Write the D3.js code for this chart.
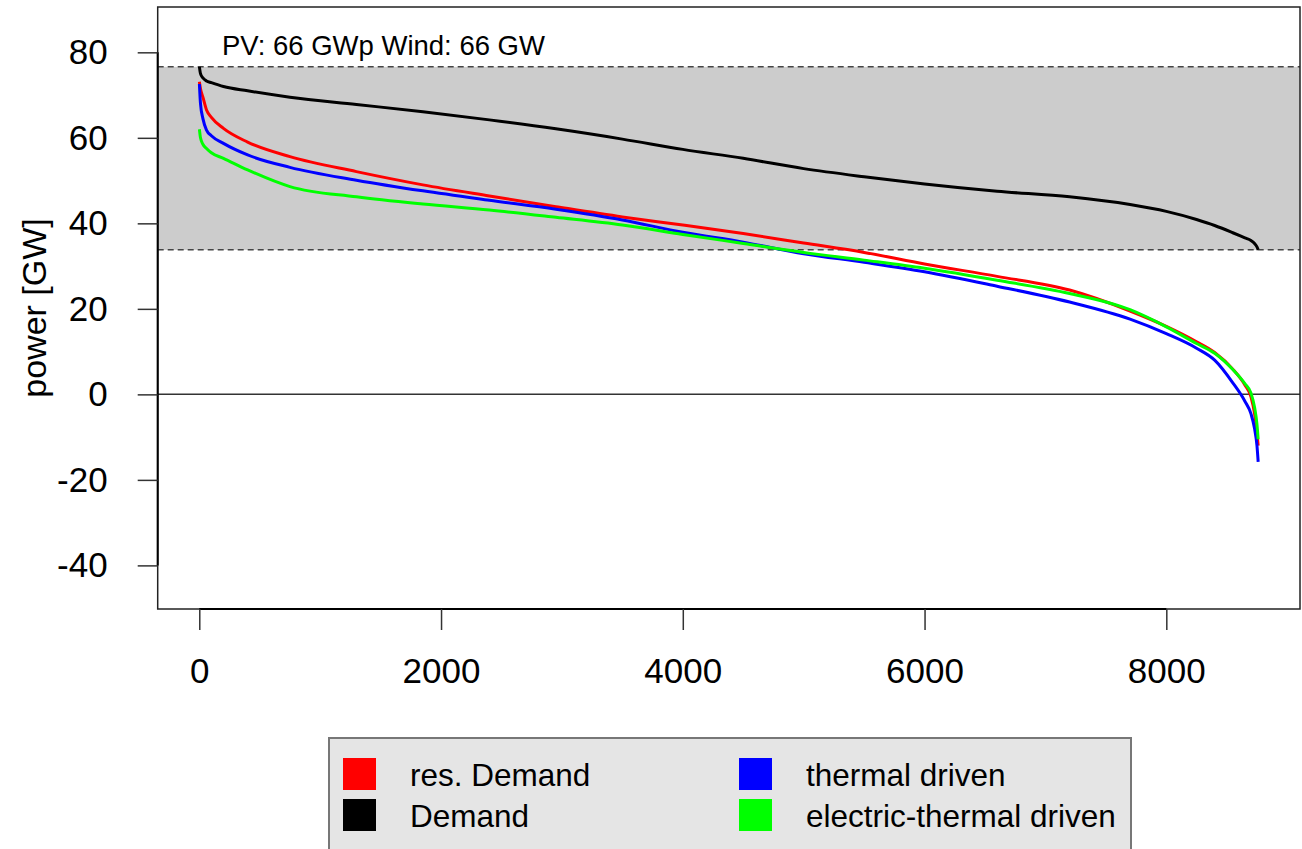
<!DOCTYPE html>
<meta charset="utf-8">
<script src="https://cdn.jsdelivr.net/npm/d3@7"></script>
<style>
body { margin: 0; background: #fff; }
text { font-family: "Liberation Sans", Arial, sans-serif; fill: #000; }
path.curve { fill: none; stroke-width: 3px; stroke-linejoin: round; }
</style>
<body>
<script>

// hours of the year (sorted duration curve sample points)
var hours = [1, 10, 30, 60, 100, 200, 400, 750, 1300, 1850, 2400, 2950, 3500, 4000,
             4500, 5000, 5500, 6000, 6600, 7200, 7700, 8000, 8250, 8400, 8550, 8650,
             8700, 8730, 8750, 8760];

var demand = [76.6, 75.0, 74.0, 73.3, 72.9, 72.0, 71.0, 69.5, 67.8, 66.1, 64.2, 62.1, 59.7, 57.3,
              55.2, 52.8, 50.9, 49.2, 47.5, 46.2, 44.4, 42.8, 40.9, 39.5, 37.8, 36.6,
              36.0, 35.3, 34.5, 33.8];

var resDemand = [73.1, 71.5, 69.5, 66.5, 64.8, 62.2, 59.0, 55.6, 52.1, 49.0, 46.4, 43.9, 41.5, 39.6,
                 37.6, 35.4, 33.2, 30.5, 27.6, 24.4, 19.5, 15.9, 12.3, 9.8, 5.9, 2.2,
                 -0.5, -4.5, -9.0, -12.0];

var thermal = [72.6, 68.0, 64.5, 61.8, 60.5, 58.7, 56.0, 53.1, 50.1, 47.6, 45.4, 43.3, 40.8, 37.9,
               35.6, 32.9, 30.9, 28.7, 25.3, 21.6, 17.6, 14.2, 10.8, 8.0, 2.7, -1.6,
               -4.5, -8.0, -12.0, -15.8];

var elecThermal = [62.0, 60.0, 58.5, 57.5, 56.5, 55.2, 52.5, 48.6, 46.2, 44.5, 43.1, 41.4, 39.6, 37.4,
                   35.3, 33.2, 31.4, 29.5, 26.7, 23.6, 19.8, 15.8, 11.9, 9.6, 5.8, 2.5,
                   0.3, -3.0, -7.0, -10.5];

var xTicks = [0, 2000, 4000, 6000, 8000];
var yTicks = [-40, -20, 0, 20, 40, 60, 80];

var legendNames = ["res. Demand", "Demand", "thermal driven", "electric-thermal driven"];
var legendColors = ["#ff0000", "#000000", "#0000ff", "#00ff00"];

var annotation = "PV: 66 GWp Wind: 66 GW";

var width = 1302,
    height = 849;

var plotLeft = 157.7, plotRight = 1300, plotTop = 7, plotBottom = 609;

var x = d3.scaleLinear().domain([-344, 9106]).range([plotLeft, plotRight]);
var y = d3.scaleLinear().domain([-50.2, 90.6]).range([plotBottom, plotTop]);

var svg = d3.select("body").append("svg")
    .attr("width", width)
    .attr("height", height);

// grey band between demand min and max
var dMax = d3.max(demand), dMin = d3.min(demand);

svg.append("rect")
    .attr("x", plotLeft)
    .attr("y", y(dMax))
    .attr("width", plotRight - plotLeft)
    .attr("height", y(dMin) - y(dMax))
    .attr("fill", "#cccccc");

svg.selectAll("line.dash")
    .data([dMax, dMin])
    .enter().append("line")
    .attr("class", "dash")
    .attr("x1", plotLeft).attr("x2", plotRight)
    .attr("y1", function(d) { return y(d); })
    .attr("y2", function(d) { return y(d); })
    .attr("stroke", "#444")
    .attr("stroke-width", 1.5)
    .attr("stroke-dasharray", "6,4");

svg.append("line")
    .attr("x1", plotLeft).attr("x2", plotRight)
    .attr("y1", y(0)).attr("y2", y(0))
    .attr("stroke", "#333")
    .attr("stroke-width", 1.5);

// curves
var line = d3.line()
    .x(function(d) { return x(d[0]); })
    .y(function(d) { return y(d[1]); })
    .curve(d3.curveMonotoneX);

var series = [
  {values: demand, color: "#000000"},
  {values: resDemand, color: "#ff0000"},
  {values: thermal, color: "#0000ff"},
  {values: elecThermal, color: "#00ff00"}
];

svg.append("g")
    .selectAll("path")
    .data(series)
    .enter().append("path")
    .attr("class", "curve")
    .attr("stroke", function(d) { return d.color; })
    .attr("d", function(d) {
      return line(hours.map(function(h, i) { return [h, d.values[i]]; }));
    });

// box
svg.append("rect")
    .attr("x", plotLeft).attr("y", plotTop)
    .attr("width", plotRight - plotLeft).attr("height", plotBottom - plotTop)
    .attr("fill", "none")
    .attr("stroke", "#222")
    .attr("stroke-width", 1.5);

// axes, R style (plain hyphen for negatives)
var xAxis = d3.axisBottom(x).tickValues(xTicks).tickSize(21).tickPadding(28)
    .tickFormat(function(d) { return String(d); });
var gx = svg.append("g")
    .attr("transform", "translate(0," + plotBottom + ")")
    .call(xAxis);
gx.select(".domain").attr("d", "M" + x(0) + ",0H" + x(8000)).attr("stroke-width", 2);
gx.selectAll(".tick line").attr("stroke-width", 1.5).attr("stroke", "#333");
gx.selectAll("text").attr("font-size", 35).attr("font-family", "Liberation Sans, Arial, sans-serif");

var yAxis = d3.axisLeft(y).tickValues(yTicks).tickSize(20).tickPadding(30)
    .tickFormat(function(d) { return String(d); });
var gy = svg.append("g")
    .attr("transform", "translate(" + plotLeft + ",0)")
    .call(yAxis);
gy.select(".domain").attr("d", "M0," + y(-40) + "V" + y(80)).attr("stroke-width", 2);
gy.selectAll(".tick line").attr("stroke-width", 1.5).attr("stroke", "#333");
gy.selectAll("text").attr("font-size", 35).attr("font-family", "Liberation Sans, Arial, sans-serif");

svg.append("text")
    .attr("transform", "translate(46," + ((plotTop + plotBottom) / 2) + ") rotate(-90)")
    .attr("text-anchor", "middle")
    .attr("font-size", 34)
    .text("power [GW]");

svg.append("text")
    .attr("x", 222)
    .attr("y", 55)
    .attr("font-size", 27.5)
    .attr("fill", "#111")
    .text(annotation);

// legend
var legend = svg.append("g");
legend.append("rect")
    .attr("x", 329).attr("y", 738)
    .attr("width", 802).attr("height", 140)
    .attr("fill", "#e5e5e5")
    .attr("stroke", "#777")
    .attr("stroke-width", 2);

var legX = [343, 739], legY = [758, 799];

var item = legend.selectAll("g.item")
    .data(legendNames)
    .enter().append("g")
    .attr("class", "item")
    .attr("transform", function(d, i) {
      return "translate(" + legX[Math.floor(i / 2)] + "," + legY[i % 2] + ")";
    });

item.append("rect")
    .attr("width", 33).attr("height", 32)
    .attr("fill", function(d, i) { return legendColors[i]; });

item.append("text")
    .attr("x", 67)
    .attr("y", 28)
    .attr("font-size", 31.5)
    .text(function(d) { return d; });

</script>
</body>
